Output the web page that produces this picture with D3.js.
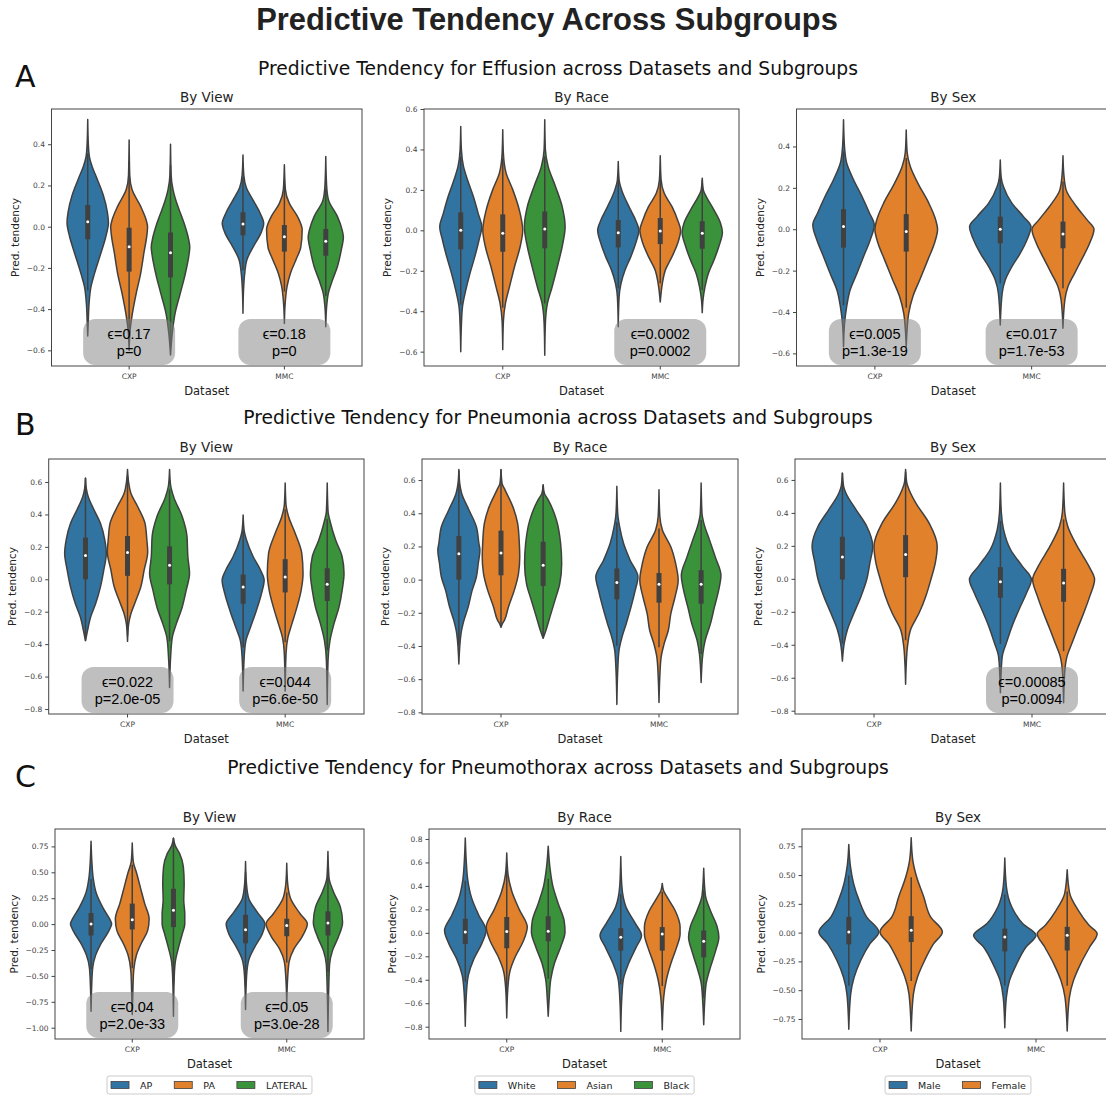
<!DOCTYPE html>
<html><head><meta charset="utf-8">
<script src="https://cdnjs.cloudflare.com/ajax/libs/d3/7.8.5/d3.min.js"></script>
<style>body{margin:0;background:#fff}svg{display:block}</style>
</head><body>
<svg id="chart" width="1106" height="1095"></svg>
<script>
// ---------------- DATA ----------------
const datasets = ["CXP", "MMC"];
const viewGroups = ["AP", "PA", "LATERAL"];
const raceGroups = ["White", "Asian", "Black"];
const sexGroups = ["Male", "Female"];
const mainTitle = "Predictive Tendency Across Subgroups";
const sectionLetters = ["A", "B", "C"];
const sectionTitles = [
  "Predictive Tendency for Effusion across Datasets and Subgroups",
  "Predictive Tendency for Pneumonia across Datasets and Subgroups",
  "Predictive Tendency for Pneumothorax across Datasets and Subgroups"
];
const panelTitles = ["By View", "By Race", "By Sex"];

// axis limits and ticks
const effusionViewDomain = [-0.676, 0.571], effusionViewTicks = [0.4, 0.2, 0, -0.2, -0.4, -0.6];
const effusionRaceDomain = [-0.671, 0.6],  effusionRaceTicks = [0.6, 0.4, 0.2, 0, -0.2, -0.4, -0.6];
const effusionSexDomain = [-0.661, 0.581], effusionSexTicks = [0.4, 0.2, 0, -0.2, -0.4, -0.6];
const pneumoniaViewDomain = [-0.831, 0.742], pneumoniaViewTicks = [0.6, 0.4, 0.2, 0, -0.2, -0.4, -0.6, -0.8];
const pneumoniaRaceDomain = [-0.81, 0.727],  pneumoniaRaceTicks = [0.6, 0.4, 0.2, 0, -0.2, -0.4, -0.6, -0.8];
const pneumoniaSexDomain = [-0.82, 0.727],   pneumoniaSexTicks = [0.6, 0.4, 0.2, 0, -0.2, -0.4, -0.6, -0.8];
const pneumothoraxViewDomain = [-1.109, 0.918], pneumothoraxViewTicks = [0.75, 0.5, 0.25, 0, -0.25, -0.5, -0.75, -1.0];
const pneumothoraxRaceDomain = [-0.905, 0.885], pneumothoraxRaceTicks = [0.8, 0.6, 0.4, 0.2, 0, -0.2, -0.4, -0.6, -0.8];
const pneumothoraxSexDomain = [-0.924, 0.9],   pneumothoraxSexTicks = [0.75, 0.5, 0.25, 0, -0.25, -0.5, -0.75];

// violin profiles: [value, relative half-width], top to bottom; order = CXP groups then MMC groups
const effusionViewShapes = [
  [[0.52,0],[0.4,0.03],[0.34,0.08],[0.29,0.22],[0.23,0.46],[0.15,0.76],[0.07,0.95],[0.02,1.0],[-0.05,0.87],[-0.13,0.63],[-0.23,0.32],[-0.29,0.16],[-0.38,0.06],[-0.45,0.03],[-0.53,0]],
  [[0.42,0],[0.25,0.03],[0.18,0.14],[0.1,0.55],[0.03,0.83],[0,0.89],[-0.03,0.87],[-0.13,0.71],[-0.23,0.55],[-0.32,0.35],[-0.42,0.16],[-0.5,0.05],[-0.6,0]],
  [[0.4,0],[0.25,0.03],[0.18,0.12],[0.1,0.35],[0.065,0.48],[0,0.71],[-0.05,0.85],[-0.1,0.93],[-0.13,0.9],[-0.23,0.71],[-0.32,0.48],[-0.42,0.22],[-0.52,0.08],[-0.623,0]],
  [[0.348,0],[0.25,0.04],[0.19,0.16],[0.13,0.48],[0.065,0.83],[0.016,1.0],[-0.03,0.87],[-0.1,0.48],[-0.16,0.19],[-0.23,0.08],[-0.3,0.03],[-0.42,0]],
  [[0.3,0],[0.18,0.05],[0.113,0.24],[0.05,0.63],[-0.016,0.86],[-0.1,0.79],[-0.16,0.56],[-0.227,0.29],[-0.29,0.13],[-0.37,0.04],[-0.47,0]],
  [[0.34,0],[0.2,0.04],[0.13,0.13],[0.05,0.56],[-0.016,0.79],[-0.05,0.85],[-0.113,0.75],[-0.194,0.56],[-0.26,0.32],[-0.32,0.13],[-0.39,0.04],[-0.485,0]]
];
const effusionViewBoxes = [[-0.061,0.024,0.105],[-0.218,-0.097,-0.005],[-0.246,-0.126,-0.028],[-0.042,0.013,0.07],[-0.121,-0.049,0.008],[-0.141,-0.071,-0.011]];

const effusionRaceShapes = [
  [[0.514,0],[0.4,0.03],[0.316,0.13],[0.25,0.32],[0.167,0.6],[0.084,0.83],[0.018,1.0],[-0.048,0.87],[-0.13,0.67],[-0.213,0.44],[-0.296,0.24],[-0.38,0.08],[-0.47,0.03],[-0.6,0]],
  [[0.497,0],[0.38,0.03],[0.283,0.16],[0.2,0.48],[0.1,0.79],[0,0.95],[-0.08,0.83],[-0.18,0.56],[-0.28,0.32],[-0.36,0.13],[-0.45,0.03],[-0.59,0]],
  [[0.547,0],[0.4,0.03],[0.316,0.16],[0.217,0.51],[0.117,0.83],[0.018,0.97],[-0.08,0.83],[-0.18,0.6],[-0.28,0.35],[-0.36,0.13],[-0.46,0.03],[-0.618,0]],
  [[0.34,0],[0.25,0.04],[0.2,0.16],[0.117,0.51],[0.05,0.83],[0,0.98],[-0.064,0.83],[-0.13,0.6],[-0.197,0.32],[-0.263,0.13],[-0.33,0.04],[-0.477,0]],
  [[0.369,0],[0.25,0.04],[0.183,0.19],[0.117,0.56],[0.05,0.83],[0,0.97],[-0.064,0.83],[-0.13,0.56],[-0.197,0.24],[-0.263,0.1],[-0.354,0]],
  [[0.258,0],[0.2,0.05],[0.167,0.19],[0.1,0.56],[0.035,0.87],[-0.01,0.96],[-0.08,0.79],[-0.147,0.56],[-0.213,0.29],[-0.28,0.13],[-0.34,0.04],[-0.407,0]]
];
const effusionRaceBoxes = [[-0.094,0.0,0.089],[-0.106,-0.015,0.079],[-0.089,0.007,0.093],[-0.084,-0.012,0.051],[-0.068,-0.003,0.061],[-0.091,-0.015,0.045]];

const effusionSexShapes = [
  [[0.529,0],[0.4,0.03],[0.32,0.1],[0.239,0.32],[0.158,0.59],[0.077,0.83],[0.021,0.98],[-0.052,0.85],[-0.132,0.64],[-0.213,0.43],[-0.294,0.21],[-0.374,0.1],[-0.46,0.03],[-0.568,0]],
  [[0.48,0],[0.37,0.03],[0.303,0.13],[0.223,0.37],[0.126,0.72],[0.045,0.94],[0,1.0],[-0.068,0.9],[-0.148,0.69],[-0.245,0.43],[-0.326,0.21],[-0.406,0.08],[-0.48,0.03],[-0.568,0]],
  [[0.335,0],[0.25,0.03],[0.206,0.1],[0.126,0.37],[0.061,0.74],[0.013,0.98],[-0.052,0.85],[-0.116,0.64],[-0.181,0.37],[-0.245,0.16],[-0.31,0.06],[-0.463,0]],
  [[0.355,0],[0.26,0.03],[0.19,0.1],[0.11,0.43],[0.045,0.77],[0,0.99],[-0.068,0.85],[-0.148,0.59],[-0.213,0.37],[-0.277,0.16],[-0.342,0.06],[-0.479,0]]
];
const effusionSexBoxes = [[-0.089,0.013,0.097],[-0.108,-0.011,0.073],[-0.068,0,0.061],[-0.092,-0.023,0.037]];

const pneumoniaViewShapes = [
  [[0.625,0],[0.56,0.04],[0.51,0.13],[0.43,0.4],[0.346,0.71],[0.242,0.92],[0.16,0.99],[0.056,0.87],[-0.048,0.71],[-0.151,0.48],[-0.234,0.24],[-0.296,0.13],[-0.379,0]],
  [[0.677,0],[0.6,0.05],[0.53,0.16],[0.449,0.48],[0.346,0.83],[0.242,0.92],[0.17,0.96],[0.056,0.79],[-0.048,0.63],[-0.13,0.4],[-0.213,0.16],[-0.28,0.05],[-0.383,0]],
  [[0.677,0],[0.58,0.05],[0.51,0.19],[0.387,0.6],[0.263,0.83],[0.139,0.87],[0.035,0.95],[-0.068,0.79],[-0.172,0.6],[-0.275,0.32],[-0.358,0.13],[-0.48,0.05],[-0.668,0]],
  [[0.397,0],[0.3,0.05],[0.242,0.16],[0.139,0.48],[0.056,0.83],[-0.006,1.0],[-0.089,0.87],[-0.192,0.63],[-0.296,0.35],[-0.379,0.13],[-0.48,0.05],[-0.689,0]],
  [[0.594,0],[0.46,0.04],[0.387,0.16],[0.283,0.48],[0.16,0.79],[0.035,0.85],[-0.068,0.76],[-0.172,0.56],[-0.275,0.32],[-0.358,0.13],[-0.46,0.04],[-0.689,0]],
  [[0.594,0],[0.42,0.04],[0.346,0.16],[0.242,0.4],[0.139,0.71],[0.035,0.8],[-0.068,0.71],[-0.172,0.56],[-0.275,0.32],[-0.379,0.13],[-0.5,0.04],[-0.772,0]]
];
const pneumoniaViewBoxes = [[0.0,0.147,0.257],[0.021,0.166,0.267],[-0.031,0.087,0.203],[-0.151,-0.048,0.029],[-0.081,0.014,0.124],[-0.134,-0.031,0.068]];

const pneumoniaRaceShapes = [
  [[0.663,0],[0.58,0.04],[0.521,0.13],[0.42,0.48],[0.319,0.83],[0.218,0.95],[0.178,1.0],[0.097,0.92],[0.016,0.83],[-0.065,0.63],[-0.166,0.44],[-0.246,0.24],[-0.327,0.1],[-0.509,0]],
  [[0.663,0],[0.58,0.05],[0.541,0.19],[0.44,0.56],[0.339,0.79],[0.218,0.87],[0.137,0.89],[0.036,0.83],[-0.065,0.63],[-0.166,0.35],[-0.246,0.16],[-0.27,0.05],[-0.287,0]],
  [[0.572,0],[0.52,0.06],[0.481,0.24],[0.36,0.63],[0.218,0.83],[0.097,0.88],[-0.024,0.79],[-0.125,0.56],[-0.226,0.32],[-0.307,0.13],[-0.354,0]],
  [[0.562,0],[0.4,0.04],[0.319,0.13],[0.218,0.32],[0.117,0.63],[0.016,1.0],[-0.065,0.87],[-0.166,0.67],[-0.267,0.44],[-0.347,0.24],[-0.428,0.1],[-0.55,0.04],[-0.752,0]],
  [[0.541,0],[0.38,0.04],[0.299,0.16],[0.198,0.56],[0.097,0.79],[-0.004,0.91],[-0.105,0.76],[-0.206,0.56],[-0.307,0.44],[-0.388,0.24],[-0.469,0.1],[-0.58,0.04],[-0.741,0]],
  [[0.582,0],[0.4,0.04],[0.339,0.13],[0.238,0.4],[0.137,0.67],[0.026,0.94],[-0.065,0.83],[-0.166,0.63],[-0.267,0.44],[-0.368,0.19],[-0.448,0.08],[-0.62,0]]
];
const pneumoniaRaceBoxes = [[0,0.156,0.263],[0.026,0.16,0.295],[-0.038,0.087,0.228],[-0.119,-0.018,0.067],[-0.139,-0.028,0.04],[-0.145,-0.028,0.057]];

const pneumoniaSexShapes = [
  [[0.642,0],[0.56,0.04],[0.521,0.11],[0.42,0.43],[0.319,0.77],[0.198,0.96],[0.097,0.87],[-0.004,0.77],[-0.105,0.59],[-0.206,0.37],[-0.307,0.16],[-0.388,0.06],[-0.499,0]],
  [[0.663,0],[0.58,0.04],[0.541,0.11],[0.461,0.32],[0.339,0.74],[0.198,1.0],[0.097,0.94],[-0.004,0.8],[-0.105,0.64],[-0.206,0.43],[-0.307,0.16],[-0.408,0.06],[-0.52,0.02],[-0.64,0]],
  [[0.582,0],[0.4,0.03],[0.299,0.1],[0.178,0.32],[0.077,0.69],[-0.004,0.98],[-0.085,0.83],[-0.186,0.59],[-0.287,0.37],[-0.388,0.19],[-0.469,0.06],[-0.58,0.02],[-0.691,0]],
  [[0.582,0],[0.4,0.04],[0.319,0.13],[0.198,0.43],[0.077,0.8],[-0.004,0.98],[-0.105,0.83],[-0.206,0.64],[-0.307,0.43],[-0.388,0.27],[-0.469,0.11],[-0.58,0.03],[-0.752,0]]
];
const pneumoniaSexBoxes = [[-0.004,0.133,0.255],[0.01,0.147,0.265],[-0.115,-0.018,0.071],[-0.139,-0.026,0.061]];

const pneumothoraxViewShapes = [
  [[0.8,0],[0.6,0.04],[0.45,0.1],[0.3,0.25],[0.15,0.6],[0.05,0.9],[0.003,1.0],[-0.07,0.85],[-0.2,0.45],[-0.3,0.22],[-0.42,0.08],[-0.6,0.03],[-0.841,0]],
  [[0.782,0],[0.6,0.05],[0.5,0.2],[0.35,0.4],[0.2,0.6],[0.05,0.82],[-0.06,0.75],[-0.18,0.45],[-0.3,0.2],[-0.45,0.07],[-0.65,0.03],[-0.873,0]],
  [[0.831,0],[0.76,0.08],[0.68,0.3],[0.555,0.48],[0.393,0.52],[0.231,0.5],[0.1,0.55],[0.0,0.55],[-0.1,0.42],[-0.224,0.25],[-0.35,0.1],[-0.5,0.04],[-0.89,0]],
  [[0.604,0],[0.4,0.04],[0.25,0.15],[0.12,0.55],[0.0,0.94],[-0.1,0.8],[-0.22,0.45],[-0.35,0.15],[-0.5,0.05],[-0.825,0]],
  [[0.588,0],[0.4,0.04],[0.25,0.18],[0.1,0.65],[0.003,1.0],[-0.12,0.75],[-0.24,0.35],[-0.36,0.12],[-0.5,0.05],[-0.776,0]],
  [[0.701,0],[0.45,0.05],[0.32,0.25],[0.166,0.6],[0.019,0.71],[-0.127,0.5],[-0.256,0.22],[-0.386,0.08],[-0.6,0.04],[-1.036,0]]
];
const pneumothoraxViewBoxes = [[-0.11,0,0.107],[-0.052,0.042,0.198],[-0.029,0.133,0.341],[-0.185,-0.055,0.09],[-0.117,-0.013,0.052],[-0.11,0.01,0.123]];

const pneumothoraxRaceShapes = [
  [[0.809,0],[0.6,0.05],[0.45,0.12],[0.3,0.3],[0.15,0.65],[0.02,1.0],[-0.09,0.8],[-0.22,0.42],[-0.36,0.15],[-0.5,0.06],[-0.797,0]],
  [[0.68,0],[0.5,0.06],[0.35,0.25],[0.2,0.6],[0.049,0.99],[-0.07,0.8],[-0.2,0.42],[-0.33,0.15],[-0.48,0.05],[-0.725,0]],
  [[0.737,0],[0.56,0.08],[0.4,0.22],[0.25,0.48],[0.1,0.77],[0.006,0.81],[-0.12,0.6],[-0.26,0.3],[-0.4,0.12],[-0.55,0.05],[-0.711,0]],
  [[0.651,0],[0.4,0.05],[0.22,0.25],[0.08,0.7],[-0.023,1.0],[-0.12,0.75],[-0.26,0.38],[-0.4,0.12],[-0.55,0.05],[-0.84,0]],
  [[0.421,0],[0.36,0.06],[0.3,0.25],[0.19,0.62],[0.05,0.86],[-0.01,0.86],[-0.12,0.7],[-0.26,0.42],[-0.4,0.2],[-0.55,0.07],[-0.826,0]],
  [[0.551,0],[0.32,0.08],[0.19,0.32],[0.05,0.65],[-0.037,0.73],[-0.15,0.58],[-0.29,0.33],[-0.43,0.12],[-0.58,0.05],[-0.783,0]]
];
const pneumothoraxRaceBoxes = [[-0.095,0.006,0.12],[-0.132,0.011,0.135],[-0.072,0.014,0.141],[-0.152,-0.037,0.04],[-0.152,-0.009,0.049],[-0.209,-0.072,0.02]];

const pneumothoraxSexShapes = [
  [[0.765,0],[0.58,0.05],[0.43,0.15],[0.28,0.33],[0.137,0.57],[0.006,0.96],[-0.096,0.68],[-0.242,0.38],[-0.388,0.17],[-0.534,0.06],[-0.84,0]],
  [[0.823,0],[0.63,0.05],[0.487,0.17],[0.312,0.4],[0.137,0.62],[0.006,1.0],[-0.096,0.72],[-0.242,0.43],[-0.388,0.2],[-0.534,0.07],[-0.855,0]],
  [[0.648,0],[0.4,0.05],[0.225,0.22],[0.079,0.57],[-0.023,1.0],[-0.125,0.68],[-0.271,0.38],[-0.417,0.15],[-0.563,0.05],[-0.826,0]],
  [[0.546,0],[0.341,0.08],[0.196,0.35],[0.064,0.7],[-0.009,0.96],[-0.125,0.72],[-0.271,0.43],[-0.417,0.2],[-0.563,0.07],[-0.855,0]]
];
const pneumothoraxSexBoxes = [[-0.102,0.006,0.137],[-0.082,0.02,0.143],[-0.163,-0.038,0.035],[-0.155,-0.023,0.05]];

// annotations: [dataset, epsilon, p]
const effusionViewNotes = [["CXP","0.17","0"],["MMC","0.18","0"]];
const effusionRaceNotes = [["MMC","0.0002","0.0002"]];
const effusionSexNotes = [["CXP","0.005","1.3e-19"],["MMC","0.017","1.7e-53"]];
const pneumoniaViewNotes = [["CXP","0.022","2.0e-05"],["MMC","0.044","6.6e-50"]];
const pneumoniaRaceNotes = [];
const pneumoniaSexNotes = [["MMC","0.00085","0.0094"]];
const pneumothoraxViewNotes = [["CXP","0.04","2.0e-33"],["MMC","0.05","3.0e-28"]];
const pneumothoraxRaceNotes = [];
const pneumothoraxSexNotes = [];

// ---------------- LAYOUT / STYLE ----------------
const palette = ["#3274a1", "#e1812c", "#3a923a"];
const edge = "#404040";
const rowFrames = [[109, 366], [459, 714], [829, 1039]];
const colFrames = [
  [[51.5, 362], [424, 739], [796.5, 1110]],
  [[48.7, 364], [422, 738], [795, 1111]],
  [[55, 364], [429, 740], [802, 1114]]
];
const groupsByCol = [viewGroups, raceGroups, sexGroups];
const panelData = [
  [[effusionViewShapes, effusionViewBoxes, effusionViewDomain, effusionViewTicks, effusionViewNotes],
   [effusionRaceShapes, effusionRaceBoxes, effusionRaceDomain, effusionRaceTicks, effusionRaceNotes],
   [effusionSexShapes, effusionSexBoxes, effusionSexDomain, effusionSexTicks, effusionSexNotes]],
  [[pneumoniaViewShapes, pneumoniaViewBoxes, pneumoniaViewDomain, pneumoniaViewTicks, pneumoniaViewNotes],
   [pneumoniaRaceShapes, pneumoniaRaceBoxes, pneumoniaRaceDomain, pneumoniaRaceTicks, pneumoniaRaceNotes],
   [pneumoniaSexShapes, pneumoniaSexBoxes, pneumoniaSexDomain, pneumoniaSexTicks, pneumoniaSexNotes]],
  [[pneumothoraxViewShapes, pneumothoraxViewBoxes, pneumothoraxViewDomain, pneumothoraxViewTicks, pneumothoraxViewNotes],
   [pneumothoraxRaceShapes, pneumothoraxRaceBoxes, pneumothoraxRaceDomain, pneumothoraxRaceTicks, pneumothoraxRaceNotes],
   [pneumothoraxSexShapes, pneumothoraxSexBoxes, pneumothoraxSexDomain, pneumothoraxSexTicks, pneumothoraxSexNotes]]
];
const tickDecimals = [[1,1,1],[1,1,1],[2,1,2]];
const DJ = "'DejaVu Sans', sans-serif";

const svg = d3.select("#chart");
svg.append("rect").attr("width", 1106).attr("height", 1095).attr("fill", "#fff");

function fit(sel, target) {
  const w = sel.node().getComputedTextLength();
  const fs = parseFloat(sel.attr("font-size"));
  sel.attr("font-size", fs * target / w);
  return fs * target / w;
}

// main title
const mt = svg.append("text").attr("x", 547).attr("y", 30).attr("text-anchor", "middle")
  .attr("font-family", "'Liberation Sans', Arial, sans-serif").attr("font-weight", "bold")
  .attr("font-size", 28).attr("fill", "#222").text(mainTitle);
fit(mt, 582);

const sectionBase = [75, 424, 774];
const letterBase = [87, 435, 787];
let secSize = 17;
sectionTitles.forEach((t, i) => {
  const s = svg.append("text").attr("x", 558).attr("y", sectionBase[i]).attr("text-anchor", "middle")
    .attr("font-family", DJ).attr("font-size", secSize).attr("fill", "#111").text(t);
  if (i === 0) secSize = fit(s, 600); else s.attr("font-size", secSize);
  svg.append("text").attr("x", 15).attr("y", letterBase[i]).attr("font-family", DJ)
    .attr("font-size", 30).attr("fill", "#111").text(sectionLetters[i]);
});

const fmtMinus = (d, dec) => (d < 0 ? "\u2212" : "") + Math.abs(d).toFixed(dec);

for (let r = 0; r < 3; r++) {
  for (let c = 0; c < 3; c++) {
    const [shapes, boxes, domain, ticks, notes] = panelData[r][c];
    const groups = groupsByCol[c];
    const [L, R] = colFrames[r][c];
    const [T, B] = rowFrames[r];
    const g = svg.append("g");
    const x = d3.scaleBand().domain(datasets).range([L, R]);
    const y = d3.scaleLinear().domain(domain).range([B, T]);
    const bw = x.bandwidth();
    const slot = bw * 0.8 / groups.length;
    const half = slot / 2;

    // violins
    datasets.forEach((ds, di) => {
      groups.forEach((gr, gi) => {
        const k = di * groups.length + gi;
        const cx = x(ds) + bw / 2 - bw * 0.4 + slot * (gi + 0.5);
        const shape = shapes[k];
        const area = d3.area().curve(d3.curveMonotoneY)
          .y(d => y(d[0])).x0(d => cx - d[1] * half).x1(d => cx + d[1] * half);
        g.append("path").attr("d", area(shape)).attr("fill", palette[gi])
          .attr("stroke", edge).attr("stroke-width", 1.5).attr("stroke-linejoin", "round");
        const [q1, med, q3] = boxes[k];
        const iqr = q3 - q1;
        const wTop = Math.min(shape[0][0], q3 + 1.5 * iqr);
        const wBot = Math.max(shape[shape.length - 1][0], q1 - 1.5 * iqr);
        g.append("line").attr("x1", cx).attr("x2", cx).attr("y1", y(wTop)).attr("y2", y(wBot))
          .attr("stroke", edge).attr("stroke-width", 1.5);
        g.append("line").attr("x1", cx).attr("x2", cx).attr("y1", y(q3)).attr("y2", y(q1))
          .attr("stroke", edge).attr("stroke-width", 5);
        g.append("circle").attr("cx", cx).attr("cy", y(med)).attr("r", 1.5).attr("fill", "#fff");
      });
    });

    // annotations
    notes.forEach(n => {
      const cx = x(n[0]) + bw / 2;
      const bh = 46, bwid = 92;
      g.append("rect").attr("x", cx - bwid / 2).attr("y", B - 1 - bh).attr("width", bwid).attr("height", bh)
        .attr("rx", 12).attr("ry", 12).attr("fill", "#808080").attr("fill-opacity", 0.5);
      const t = g.append("text").attr("text-anchor", "middle")
        .attr("font-family", "'Liberation Sans', Arial, sans-serif").attr("font-size", 14.5).attr("fill", "#000");
      t.append("tspan").attr("x", cx).attr("y", B - 1 - bh / 2 - 3.5).text("\u03F5=" + n[1]);
      t.append("tspan").attr("x", cx).attr("y", B - 1 - bh / 2 + 13.5).text("p=" + n[2]);
    });

    // frame
    g.append("rect").attr("x", L).attr("y", T).attr("width", R - L).attr("height", B - T)
      .attr("fill", "none").attr("stroke", "#444").attr("stroke-width", 1);

    // y axis
    const ya = g.append("g").attr("transform", `translate(${L},0)`)
      .call(d3.axisLeft(y).tickValues(ticks).tickSize(3.5).tickPadding(3).tickFormat(d => fmtMinus(d, tickDecimals[r][c])));
    ya.select(".domain").remove();
    ya.selectAll("line").attr("stroke", "#444");
    ya.selectAll("text").attr("font-family", DJ).attr("font-size", 7.5).attr("fill", "#444");
    const yb = ya.node().getBBox();

    // x axis
    const xa = g.append("g").attr("transform", `translate(0,${B})`)
      .call(d3.axisBottom(x).tickSize(3.5).tickPadding(4));
    xa.select(".domain").remove();
    xa.selectAll("line").attr("stroke", "#444");
    xa.selectAll("text").attr("font-family", DJ).attr("font-size", 7.5).attr("fill", "#444");

    // labels
    g.append("text").attr("x", (L + R) / 2).attr("y", T - 7).attr("text-anchor", "middle")
      .attr("font-family", DJ).attr("font-size", 13.5).attr("fill", "#222").text(panelTitles[c]);
    g.append("text").attr("transform", `translate(${L + yb.x - 8},${(T + B) / 2}) rotate(-90)`)
      .attr("text-anchor", "middle").attr("font-family", DJ).attr("font-size", 10.5).attr("fill", "#222")
      .text("Pred. tendency");
    g.append("text").attr("x", (L + R) / 2).attr("y", B + 29).attr("text-anchor", "middle")
      .attr("font-family", DJ).attr("font-size", 11.5).attr("fill", "#222").text("Dataset");

    // legend (bottom row)
    if (r === 2) {
      const lg = g.append("g");
      let cur = 4;
      groups.forEach((gr, gi) => {
        const it = lg.append("g");
        it.append("rect").attr("x", cur).attr("y", -3.5).attr("width", 18).attr("height", 7)
          .attr("fill", palette[gi]).attr("stroke", edge).attr("stroke-width", 0.8);
        const tx = it.append("text").attr("x", cur + 29).attr("y", 3.5).attr("font-family", DJ)
          .attr("font-size", 9.5).attr("fill", "#222").text(gr);
        cur += 29 + tx.node().getComputedTextLength() + (gi < groups.length - 1 ? 22 : 5);
      });
      const totalW = cur;
      lg.insert("rect", ":first-child").attr("x", 0).attr("y", -9).attr("width", totalW).attr("height", 18)
        .attr("rx", 2).attr("fill", "#fff").attr("stroke", "#ccc").attr("stroke-width", 1);
      lg.attr("transform", `translate(${(L + R) / 2 - totalW / 2},1085)`);
    }
  }
}
</script>
</body></html>
